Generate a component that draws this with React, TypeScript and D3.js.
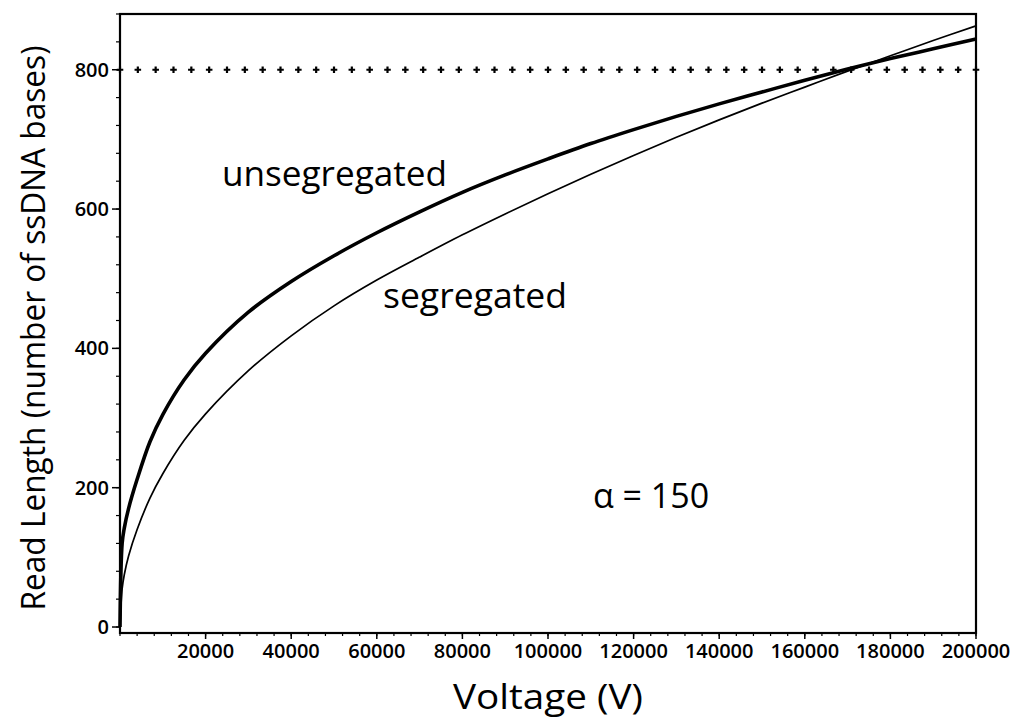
import React from "react";
import * as d3 from "d3";

const voltage = [0, 500, 1000, 2000, 4000, 7000, 10000, 15000, 20000, 30000, 40000, 50000, 60000, 70000, 80000, 90000, 100000, 110000, 120000, 130000, 140000, 150000, 160000, 170000, 180000, 190000, 200000];
const unsegregated = [0, 120, 142, 170, 212, 266, 305, 355, 393, 452, 496, 533, 566, 596, 624, 649, 672, 694, 714, 733, 751, 768, 785, 801, 816, 830, 844];
const segregated = [0, 55, 75, 102, 140, 185, 220, 268, 306, 368, 418, 461, 498, 531, 563, 593, 622, 650, 677, 703, 728, 752, 775, 798, 820, 842, 863];
const threshold = 800;
const xMajorTicks = [20000, 40000, 60000, 80000, 100000, 120000, 140000, 160000, 180000, 200000];
const yMajorTicks = [0, 200, 400, 600, 800];
const annotation = "\u03b1 = 150";

const W = 1021, H = 723;
const L = 120, R = 976, T = 14, B = 633;

export default function App() {
  const x = d3.scaleLinear().domain([0, 200000]).range([L, R]);
  const y = d3.scaleLinear().domain([-8.6, 880]).range([B, T]);
  const line = (vals: number[]) =>
    d3.line<number>().x((_, i) => x(voltage[i])).y((v) => y(v)).curve(d3.curveCatmullRom.alpha(0.5))(vals) || "";
  const xMinor = d3.range(0, 200001, 4000);
  const yMinor = d3.range(0, 881, 40);
  const dotXs = d3.range(0, 200001, 200000 / 48);
  const cross = d3.symbol().type(d3.symbolCross).size(24)() || "";
  const font = "'Open Sans', sans-serif";

  return (
    <svg width={W} height={H} style={{ display: "block", position: "absolute", left: 0, top: 0, background: "#fff" }}>
      <rect x={0} y={0} width={W} height={H} fill="#fff" />
      {dotXs.map((v, i) => (
        <path key={"d" + i} d={cross} transform={`translate(${x(v)},${y(threshold)})`} fill="#000" />
      ))}
      <path d={line(segregated)} fill="none" stroke="#000" strokeWidth={1.7} />
      <path d={line(unsegregated)} fill="none" stroke="#000" strokeWidth={3.6} />
      <rect x={L} y={T} width={R - L} height={B - T} fill="none" stroke="#000" strokeWidth={2.2} />
      {xMinor.map((v, i) => (
        <line key={"xm" + i} x1={x(v)} x2={x(v)} y1={B} y2={B + 3} stroke="#000" strokeWidth={1.2} />
      ))}
      {xMajorTicks.map((v, i) => (
        <g key={"xt" + i}>
          <line x1={x(v)} x2={x(v)} y1={B} y2={B + 6} stroke="#000" strokeWidth={1.5} />
          <text x={x(v)} y={658} textAnchor="middle" fontFamily={font} fontWeight={600} fontSize={20}>{v}</text>
        </g>
      ))}
      {yMinor.map((v, i) => (
        <line key={"ym" + i} x1={L - 4} x2={L} y1={y(v)} y2={y(v)} stroke="#000" strokeWidth={1.2} />
      ))}
      {yMajorTicks.map((v, i) => (
        <g key={"yt" + i}>
          <line x1={L - 8} x2={L} y1={y(v)} y2={y(v)} stroke="#000" strokeWidth={1.5} />
          <text x={L - 11} y={y(v) + 7} textAnchor="end" fontFamily={font} fontWeight={600} fontSize={20}>{v}</text>
        </g>
      ))}
      <text x={222} y={186} fontFamily={font} fontSize={35} textLength={225} lengthAdjust="spacingAndGlyphs">unsegregated</text>
      <text x={383} y={308} fontFamily={font} fontSize={35} textLength={184} lengthAdjust="spacingAndGlyphs">segregated</text>
      <text x={593} y={508} fontFamily={font} fontSize={34}>{annotation}</text>
      <text x={548} y={709} textAnchor="middle" fontFamily={font} fontSize={35} textLength={190} lengthAdjust="spacingAndGlyphs">Voltage (V)</text>
      <text transform="translate(45,328) rotate(-90)" textAnchor="middle" fontFamily={font} fontSize={33} textLength={565} lengthAdjust="spacingAndGlyphs">Read Length (number of ssDNA bases)</text>
    </svg>
  );
}
